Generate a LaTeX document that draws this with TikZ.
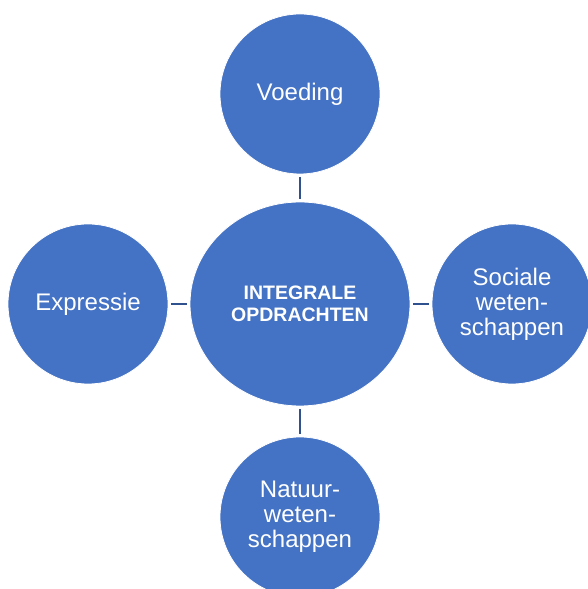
\documentclass[tikz,border=0pt]{standalone}
\usepackage{fontspec}
\setmainfont{Liberation Sans}
\usetikzlibrary{shapes.geometric}
\definecolor{vakblauw}{HTML}{4472C4}
\definecolor{lijnblauw}{HTML}{2F528F}
\tikzset{
  vak/.style={circle, fill=vakblauw, draw=white, line width=0.8pt, minimum size=160pt,
    inner sep=0pt, align=center, text=white, font=\fontsize{24}{25}\selectfont},
  kern/.style={ellipse, fill=vakblauw, draw=white, line width=0.8pt, minimum width=220pt,
    minimum height=204pt, inner sep=0pt, align=center, text=white,
    font=\fontsize{19.5}{22}\selectfont\bfseries},
  verbind/.style={draw=lijnblauw, line width=2.6pt, shorten <=2.5pt, shorten >=2.5pt}
}
\begin{document}
\begin{tikzpicture}[x=1pt, y=1pt]

    % kader van de tekening
    \clip (0,0) rectangle (588,589);

    % middelste vak
    \node[kern] (integraal) at (300,285) {INTEGRALE\\OPDRACHTEN};

    % de vier vakken rondom
    \node[vak] (voeding)   at (300,495) {Voeding};
    \node[vak] (expressie) at (88,285)  {Expressie};
    \node[vak] (sociaal)   at (512,285) {Sociale\\weten-\\schappen};
    \node[vak] (natuur)    at (300,72)  {Natuur-\\weten-\\schappen};

    % verbindingen
    \draw[verbind] (voeding) -- (integraal);
    \draw[verbind] (expressie) -- (integraal);
    \draw[verbind] (sociaal) -- (integraal);
    \draw[verbind] (natuur) -- (integraal);

\end{tikzpicture}
\end{document}
